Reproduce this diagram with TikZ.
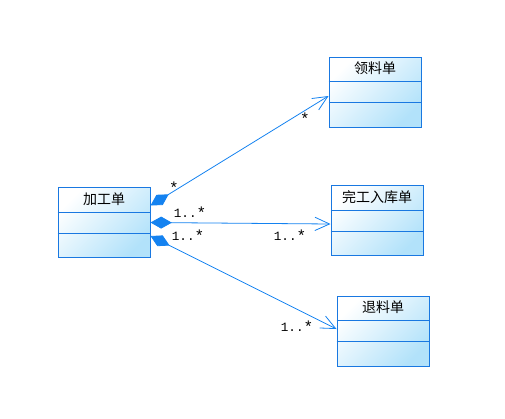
\documentclass[tikz,border=0pt]{standalone}
\usepackage{fontspec}
\newfontfamily\cjk{Noto Sans CJK SC}
\newfontfamily\mono{Liberation Mono}
\usetikzlibrary{arrows.meta,calc}

\definecolor{umlline}{RGB}{20,130,240}
\definecolor{umledge}{RGB}{25,120,225}
\definecolor{umlfill}{RGB}{178,226,250}

\newcommand{\mstar}{\raisebox{-0.25ex}{\fontsize{12pt}{12pt}\selectfont*}}

\tikzset{every picture/.style={line width=0.75pt}}
\tikzset{
	classbox/.style={draw=umledge, top color=white, bottom color=umlfill, shading angle=45,
		minimum width=69pt, minimum height=52.5pt, inner sep=0pt},
	classname/.style={font=\cjk\fontsize{10.5pt}{12pt}\selectfont, inner sep=0pt},
	multlabel/.style={font=\mono\fontsize{9.5pt}{11pt}\selectfont, inner sep=0pt},
	assoc/.style={draw=umlline, line width=0.6pt,
		{Diamond[fill=umlline, length=16pt, width=9pt]}-{Straight Barb[length=11pt, width=10pt, line width=0.6pt]}}
}

\begin{document}
\begin{tikzpicture}[x=0.75pt,y=0.75pt,yscale=-1,xscale=1]
	\useasboundingbox (0,0) rectangle (505,418);

	%Shape: Class boxes
	\foreach \nm/\cx/\cy/\ttl in {jgd/104/222.5/加工单, llb/375/92/领料单, wgrk/377/220.5/完工入库单, tld/383/331/退料单}{
		\node[classbox] (\nm) at (\cx,\cy) {};
		\draw[umledge] ($(\nm.north west)+(0,25)$) -- ($(\nm.north east)+(0,25)$);
		\draw[umledge] ($(\nm.north west)+(0,46)$) -- ($(\nm.north east)+(0,46)$);
		\node[classname] (\nm-t) at ($(\nm.north)+(0,12)$) {\ttl};
	}

	%Straight Lines: aggregations
	\coordinate (jgd-p1) at ($(jgd.east)+(0,-17)$);
	\coordinate (jgd-p2) at (jgd.east);
	\coordinate (jgd-p3) at ($(jgd.east)+(0,13.5)$);
	\coordinate (llb-p) at ($(llb.west)+(0,4)$);
	\coordinate (wgrk-p) at ($(wgrk.west)+(0,3.5)$);
	\coordinate (tld-p) at ($(tld.west)+(0,-2)$);
	\draw[assoc] (jgd-p1) -- (llb-p);
	\draw[assoc] (jgd-p2) -- (wgrk-p);
	\draw[assoc] (jgd-p3) -- (tld-p);

	% Text Node
	\node[multlabel] (m1) at (174,188) {\mstar};
	% Text Node
	\node[multlabel] (m2) at (190,213) {1..\mstar};
	% Text Node
	\node[multlabel] (m3) at (188,236) {1..\mstar};
	% Text Node
	\node[multlabel] (m4) at (305,119) {\mstar};
	% Text Node
	\node[multlabel] (m5) at (290,236) {1..\mstar};
	% Text Node
	\node[multlabel] (m6) at (297,327) {1..\mstar};

\end{tikzpicture}
\end{document}
